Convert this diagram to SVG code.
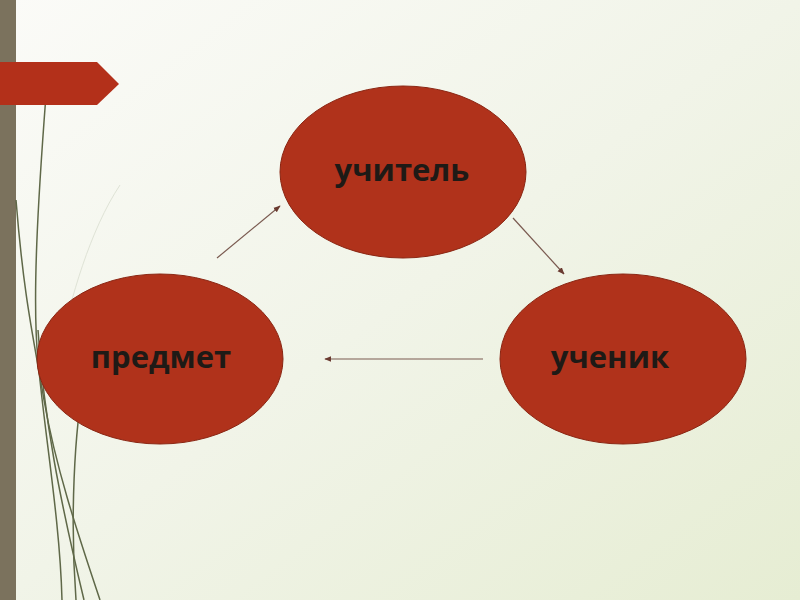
<svg xmlns="http://www.w3.org/2000/svg" width="800" height="600" viewBox="0 0 800 600">
<defs>
<linearGradient id="bg" x1="0" y1="0" x2="1" y2="1">
<stop offset="0" stop-color="#fbfbf8"/>
<stop offset="0.5" stop-color="#f1f4e8"/>
<stop offset="1" stop-color="#e6edd3"/>
</linearGradient>
<marker id="ah" viewBox="0 0 10 10" refX="9" refY="5" markerWidth="6" markerHeight="6" orient="auto">
<path d="M0,1 L10,5 L0,9 z" fill="#6a3a30"/>
</marker>
<style>
.node{fill:#b0321b;stroke:#8a2512;stroke-width:1}
.lbl{font-family:"Open Sans","DejaVu Sans",sans-serif;font-weight:bold;font-size:31px;fill:#1e1a16;text-anchor:middle}
.conn{stroke:#7a5a50;stroke-width:1.2;fill:none;marker-end:url(#ah)}
.curve{stroke:#5f6848;stroke-width:1.5;fill:none}
</style>
</defs>
<rect width="800" height="600" fill="url(#bg)"/>
<rect x="0" y="0" width="16" height="600" fill="#7b725d"/>
<g id="deco">
<path class="curve" d="M46,95 C38,200 32,300 38,360 C44,430 60,520 62,600"/>
<path class="curve" d="M16,200 C24,300 34,340 44,400 C56,470 80,540 100,600"/>
<path class="curve" d="M38,330 C44,420 60,500 84,600"/>
<path class="curve" d="M85,375 C74,430 70,520 76,600"/>
<path d="M120,185 C90,230 70,300 60,350" stroke="#dfe3d6" stroke-width="1" fill="none"/>
</g>
<polygon id="banner" points="0,62 97,62 119,84 97,105 0,105" fill="#b3301a"/>
<g id="connectors">
<line class="conn" x1="217" y1="258" x2="280" y2="206"/>
<line class="conn" x1="513" y1="218" x2="564" y2="274"/>
<line class="conn" x1="483" y1="359" x2="325" y2="359"/>
</g>
<g id="teacher">
<ellipse class="node" cx="403" cy="172" rx="123" ry="86"/>
<text class="lbl" x="402" y="181">учитель</text>
</g>
<g id="subject">
<ellipse class="node" cx="160" cy="359" rx="123" ry="85"/>
<text class="lbl" x="161" y="368">предмет</text>
</g>
<g id="student">
<ellipse class="node" cx="623" cy="359" rx="123" ry="85"/>
<text class="lbl" x="610" y="368">ученик</text>
</g>
</svg>
